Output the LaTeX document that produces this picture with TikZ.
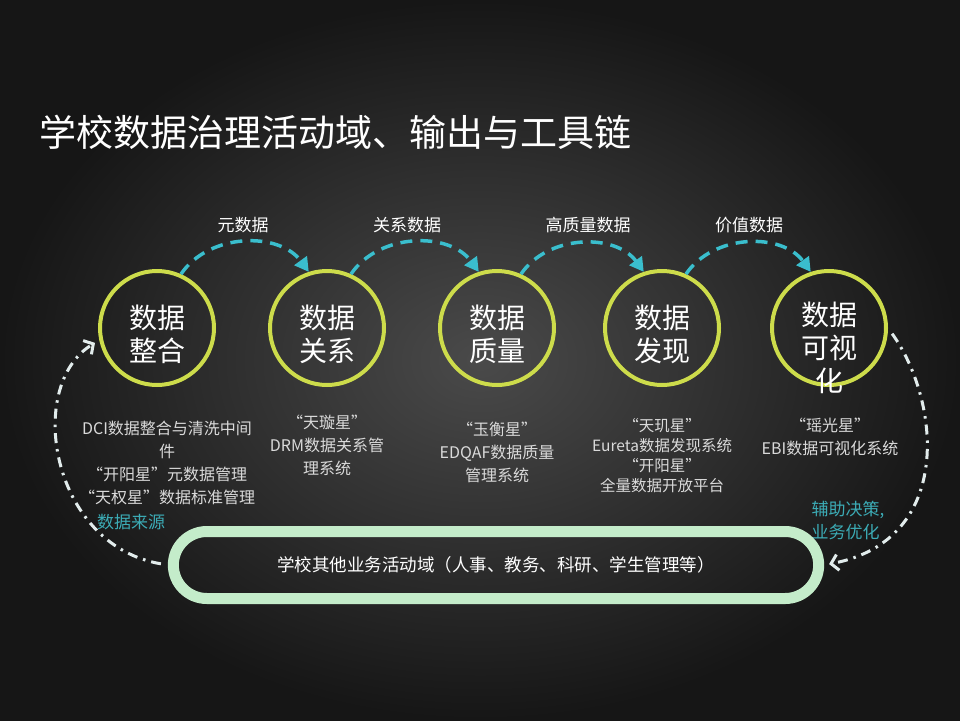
\documentclass[tikz,border=0pt]{standalone}
\usepackage{fontspec}
\setmainfont{Noto Sans CJK SC}
\usetikzlibrary{arrows.meta,shapes.misc}
\definecolor{bgin}{RGB}{74,74,74}
\definecolor{bgout}{RGB}{22,22,22}
\definecolor{ringc}{RGB}{205,220,75}
\definecolor{flowc}{RGB}{58,190,205}
\definecolor{tealc}{RGB}{60,172,182}
\definecolor{mintc}{RGB}{196,236,202}
\definecolor{descc}{RGB}{218,218,218}
\definecolor{backc}{RGB}{226,236,236}
\tikzset{ringnode/.style={shape=circle, draw=ringc, line width=4pt, inner sep=0pt, minimum size=114pt},
	ringtext/.style={text=white, align=center, font=\fontsize{28}{33}\selectfont},
	flowlabel/.style={text=white, font=\fontsize{17}{20}\selectfont},
	flow/.style={draw=flowc, line width=3.5pt, dash pattern=on 12pt off 8pt, -{Triangle[length=14pt,width=15pt]}},
	desc/.style={text=descc, align=center, font=\fontsize{16}{23}\selectfont},
	tealtext/.style={text=tealc, font=\fontsize{17}{23}\selectfont},
	domnode/.style={rounded rectangle, draw=mintc, line width=11pt, minimum width=652pt, minimum height=67pt, text=white, font=\fontsize{17.5}{20}\selectfont},
	feedback/.style={draw=backc, line width=3pt, dash pattern=on 10pt off 6pt on 2.5pt off 6pt, shorten <=7pt, shorten >=5pt, -{Straight Barb[length=7pt,width=16pt]}}}
\begin{document}
\begin{tikzpicture}[x=1pt,y=-1pt]
\useasboundingbox (0,0) rectangle (960,720) ;
\shade[inner color=bgin, outer color=bgout] (0,0) rectangle (960,720) ;
\node[text=white, anchor=west, font=\fontsize{37}{40}\selectfont] (title) at (36,132) {学校数据治理活动域、输出与工具链} ;
\foreach \i/\x in {1/157,2/327,3/497,4/662,5/829}
{
	\node[ringnode] (c\i) at (\x,328) {} ;
}
\foreach \i/\x/\txt in {1/157/{数据\\整合},2/327/{数据\\关系},3/497/{数据\\质量},4/662/{数据\\发现}}
{
	\node[ringtext] (t\i) at (\x,334) {\txt} ;
}
\node[ringtext] (t5) at (829,348) {数据\\可视\\化} ;
\foreach \i/\x/\txt in {1/243/元数据,2/407/关系数据,3/588/高质量数据,4/749/价值数据}
{
	\node[flowlabel] (l\i) at (\x,225) {\txt} ;
}
\foreach \i in {1,...,4}
{
	\pgfmathtruncatemacro{\j}{\i+1} ;
	\draw[flow] (c\i.66) to[bend left=55] (c\j.108) ;
}
\node[desc] (d1) at (167,463) {DCI数据整合与清洗中间\\件\\“开阳星”元数据管理\\“天权星”数据标准管理} ;
\node[desc] (d2) at (327,445) {“天璇星”\\DRM数据关系管\\理系统} ;
\node[desc] (d3) at (497,452) {“玉衡星”\\EDQAF数据质量\\管理系统} ;
\node[desc, font=\fontsize{15.5}{20}\selectfont] (d4) at (662,456) {“天玑星”\\Eureta数据发现系统\\“开阳星”\\全量数据开放平台} ;
\node[desc] (d5) at (830,437) {“瑶光星”\\EBI数据可视化系统} ;
\node[tealtext] (src) at (131,522) {数据来源} ;
\node[tealtext, align=left] (aid) at (848,520) {辅助决策,\\业务优化} ;
\node[domnode] (dom) at (496,565) {学校其他业务活动域（人事、教务、科研、学生管理等）} ;
\draw[feedback] (dom.west) .. controls (50,545) and (25,385) .. (c1.192) ;
\draw[feedback] (c5.0) .. controls (940,400) and (955,540) .. (dom.east) ;
\end{tikzpicture}
\end{document}
